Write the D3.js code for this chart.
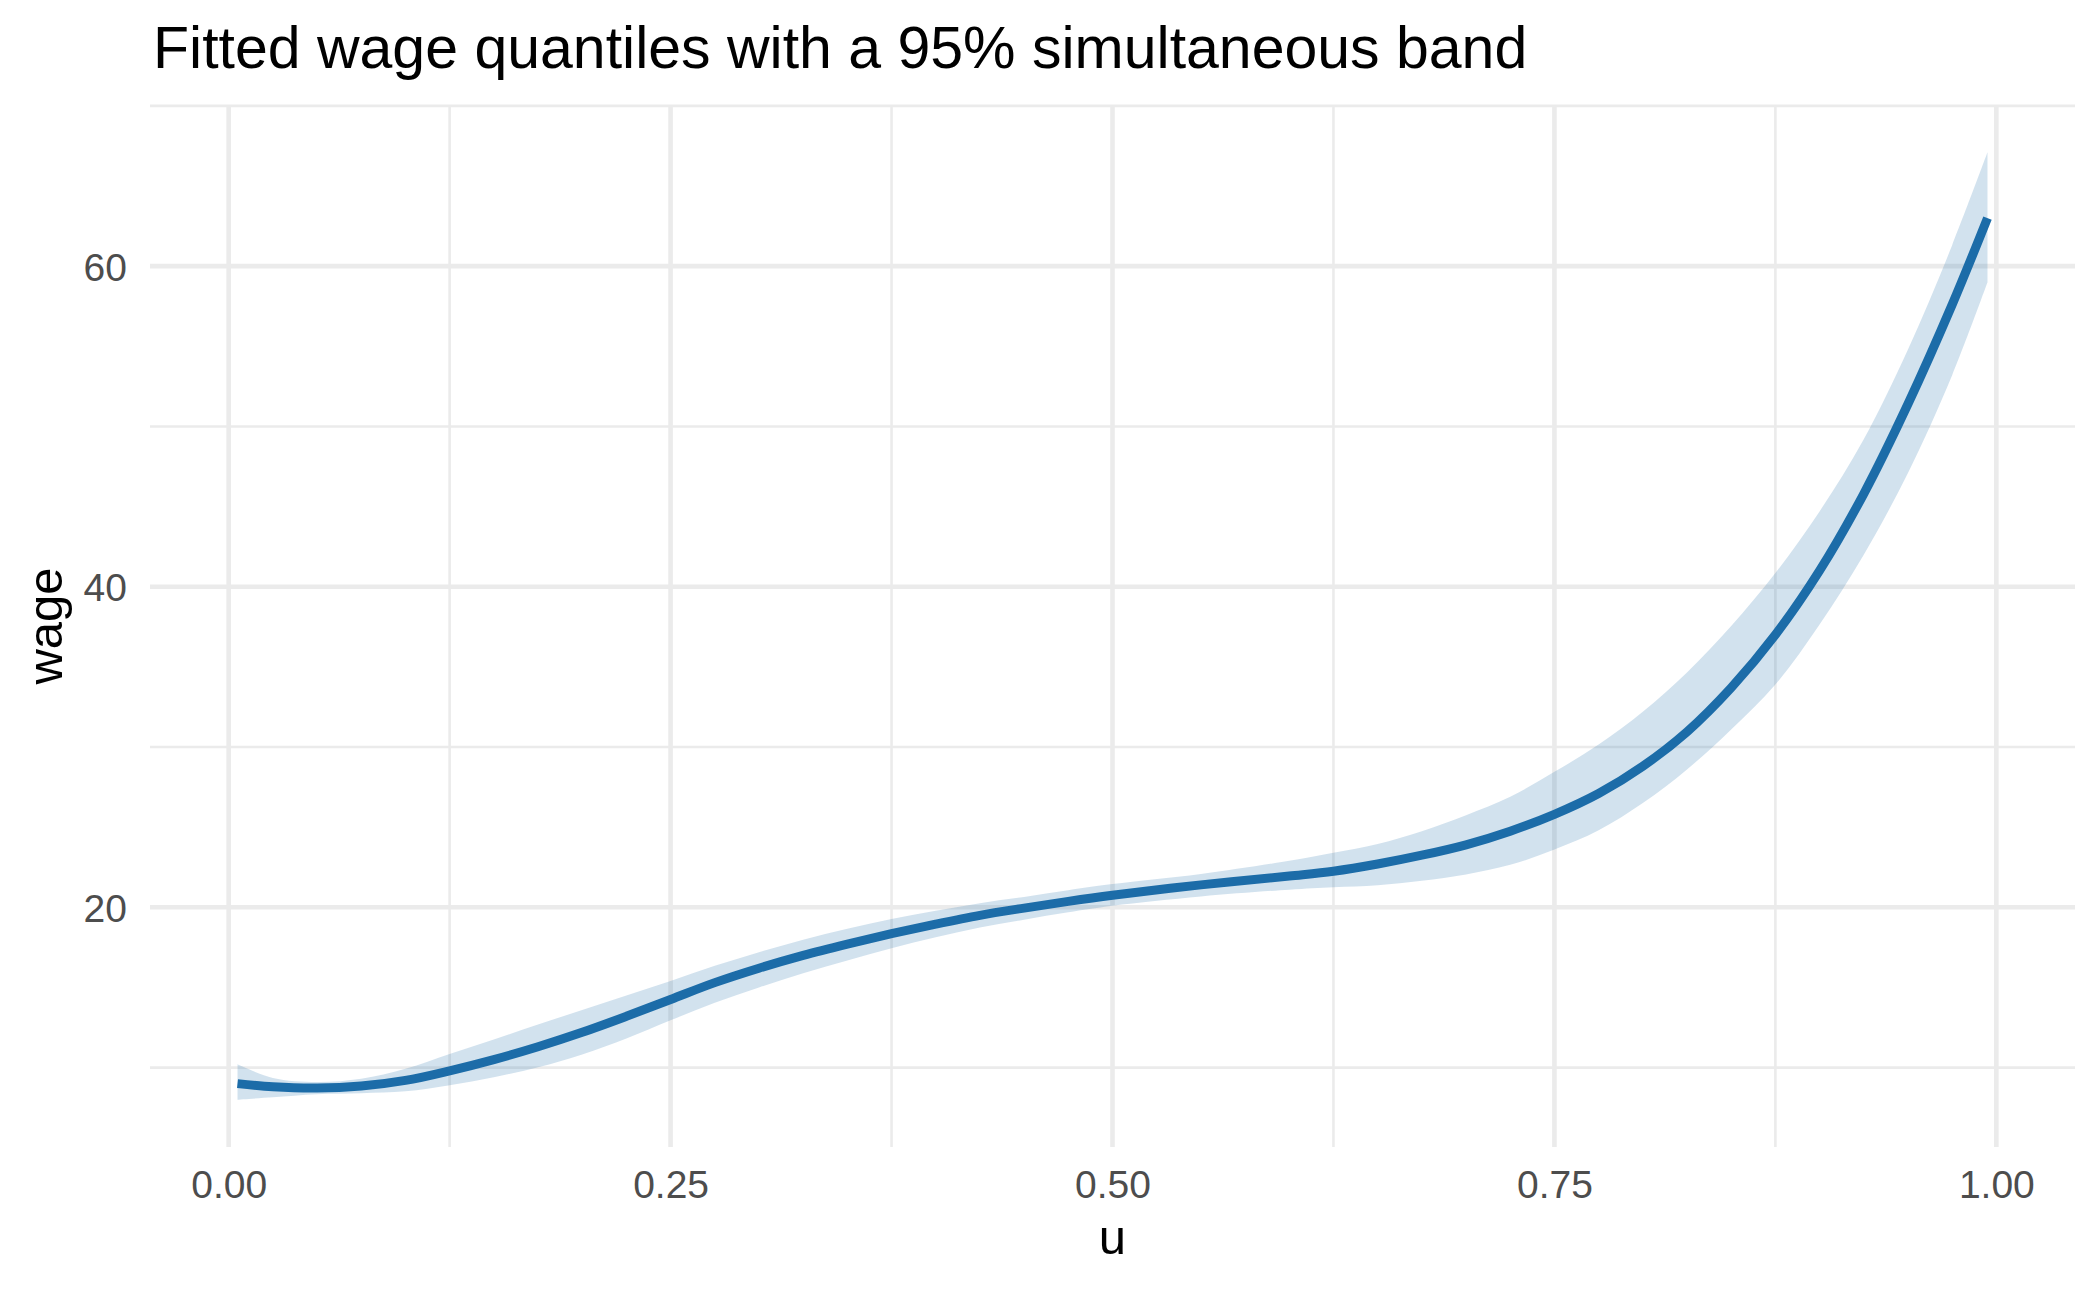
<!DOCTYPE html>
<html>
<head>
<meta charset="utf-8">
<script src="https://cdn.jsdelivr.net/npm/d3@7"></script>
<style>
    html, body { margin: 0; padding: 0; background: #fff; }
    svg { display: block; font-family: "Liberation Sans", Arial, Helvetica, sans-serif; }
</style>
</head>
<body>
<svg id="chart" width="2100" height="1290"></svg>
<script>
// values
const uValues = [0.005, 0.025, 0.05, 0.075, 0.1, 0.125, 0.15, 0.175, 0.2, 0.225,
    0.25, 0.275, 0.3, 0.325, 0.35, 0.375, 0.4, 0.425, 0.45, 0.475,
    0.5, 0.55, 0.6, 0.625, 0.65, 0.675, 0.7, 0.725, 0.75, 0.775,
    0.8, 0.825, 0.85, 0.875, 0.9, 0.925, 0.95, 0.975, 0.995];
const fitValues = [9.0, 8.8, 8.72, 8.85, 9.2, 9.8, 10.5, 11.3, 12.2, 13.2,
    14.25, 15.3, 16.2, 17.0, 17.7, 18.35, 18.95, 19.5, 19.95, 20.37,
    20.75, 21.4, 21.95, 22.25, 22.7, 23.25, 23.9, 24.75, 25.8, 27.1,
    28.8, 30.95, 33.7, 37.0, 41.0, 45.8, 51.4, 57.6, 63.0];
const lowerValues = [8.0, 8.15, 8.34, 8.4, 8.52, 8.9, 9.4, 10.02, 10.82, 11.82,
    12.95, 14.05, 15.0, 15.88, 16.68, 17.45, 18.13, 18.74, 19.23, 19.69,
    20.1, 20.68, 21.1, 21.25, 21.38, 21.65, 22.05, 22.65, 23.6, 24.8,
    26.5, 28.6, 31.1, 33.9, 37.65, 42.0, 47.1, 53.2, 59.0];
const upperValues = [10.2, 9.35, 9.1, 9.3, 9.92, 10.85, 11.75, 12.68, 13.6, 14.5,
    15.4, 16.35, 17.2, 17.98, 18.66, 19.27, 19.79, 20.26, 20.65, 21.07,
    21.45, 22.08, 22.9, 23.4, 23.95, 24.75, 25.75, 26.9, 28.45, 30.15,
    32.2, 34.65, 37.55, 40.85, 44.7, 49.2, 54.8, 61.3, 67.1];

const xMajor = [0, 0.25, 0.5, 0.75, 1];
const xMinor = [0.125, 0.375, 0.625, 0.875];
const yMajor = [20, 40, 60];
const yMinor = [10, 30, 50, 70];

const titleText = 'Fitted wage quantiles with a 95% simultaneous band';
const xTitle = 'u';
const yTitle = 'wage';

const lineColor = '#1c6ca8';
const gridColor = '#ebebeb';
const tickColor = '#4d4d4d';

const panel = { left: 150, right: 2075, top: 105, bottom: 1147 };

const rows = uValues.map((u, i) => ({ u: u, fit: fitValues[i], lo: lowerValues[i], hi: upperValues[i] }));

// ggplot style 5% expansion of the data range
function expand(extent) {
    const pad = (extent[1] - extent[0]) * 0.05;
    return [extent[0] - pad, extent[1] + pad];
}

const x = d3.scaleLinear()
    .domain(expand(d3.extent(uValues)))
    .range([panel.left, panel.right]);
const y = d3.scaleLinear()
    .domain(expand([d3.min(lowerValues), d3.max(upperValues)]))
    .range([panel.bottom, panel.top]);

const svg = d3.select('#chart');

function grid(g, values, width, vertical) {
    g.selectAll('line')
        .data(values.filter(v => vertical ? (x(v) >= panel.left && x(v) <= panel.right) : (y(v) >= panel.top && y(v) <= panel.bottom)))
        .join('line')
        .attr('x1', d => vertical ? x(d) : panel.left)
        .attr('x2', d => vertical ? x(d) : panel.right)
        .attr('y1', d => vertical ? panel.top : y(d))
        .attr('y2', d => vertical ? panel.bottom : y(d))
        .attr('stroke', gridColor)
        .attr('stroke-width', width);
}

grid(svg.append('g'), yMinor, 2.6, false);
grid(svg.append('g'), xMinor, 2.6, true);
grid(svg.append('g'), yMajor, 4.6, false);
grid(svg.append('g'), xMajor, 4.6, true);

const band = d3.area()
    .x(d => x(d.u))
    .y0(d => y(d.lo))
    .y1(d => y(d.hi))
    .curve(d3.curveCatmullRom.alpha(0.5));

svg.append('path')
    .datum(rows)
    .attr('d', band)
    .attr('fill', lineColor)
    .attr('fill-opacity', 0.2);

const line = d3.line()
    .x(d => x(d.u))
    .y(d => y(d.fit))
    .curve(d3.curveCatmullRom.alpha(0.5));

svg.append('path')
    .datum(rows)
    .attr('d', line)
    .attr('fill', 'none')
    .attr('stroke', lineColor)
    .attr('stroke-width', 9)
    .attr('stroke-linejoin', 'round');

// axes: ggplot minimal has no axis lines or ticks, so strip them
const xAxis = svg.append('g')
    .attr('transform', `translate(0,${panel.bottom})`)
    .call(d3.axisBottom(x).tickValues(xMajor).tickFormat(d3.format('.2f')).tickSize(0).tickPadding(0));
xAxis.select('.domain').remove();
xAxis.selectAll('text')
    .attr('y', 51)
    .attr('dy', null)
    .attr('fill', tickColor)
    .attr('font-size', 39)
    .attr('font-family', '"Liberation Sans", Arial, sans-serif');

const yAxis = svg.append('g')
    .attr('transform', `translate(${panel.left},0)`)
    .call(d3.axisLeft(y).tickValues(yMajor).tickSize(0).tickPadding(0));
yAxis.select('.domain').remove();
yAxis.selectAll('text')
    .attr('x', -23)
    .attr('dy', '0.36em')
    .attr('fill', tickColor)
    .attr('font-size', 39)
    .attr('font-family', '"Liberation Sans", Arial, sans-serif');

svg.append('text')
    .attr('x', 153)
    .attr('y', 68)
    .attr('font-size', 59)
    .attr('fill', '#000')
    .text(titleText);

svg.append('text')
    .attr('x', (panel.left + panel.right) / 2)
    .attr('y', 1254)
    .attr('text-anchor', 'middle')
    .attr('font-size', 49)
    .attr('fill', '#000')
    .text(xTitle);

svg.append('text')
    .attr('transform', `translate(62,${(panel.top + panel.bottom) / 2}) rotate(-90)`)
    .attr('text-anchor', 'middle')
    .attr('font-size', 49)
    .attr('fill', '#000')
    .text(yTitle);
</script>
</body>
</html>
